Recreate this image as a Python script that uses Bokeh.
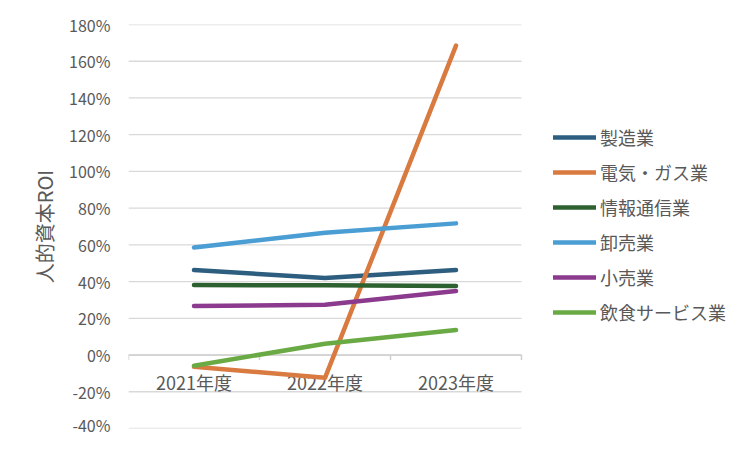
import numpy as np
from bokeh.plotting import figure
from bokeh.models import (Range1d, NumeralTickFormatter, FixedTicker, Legend, LegendItem)
from bokeh.core.properties import value
from bokeh.embed import file_html
from bokeh.resources import INLINE

categories = ["2021年度", "2022年度", "2023年度"]
series_names = ["製造業", "電気・ガス業", "情報通信業", "卸売業", "小売業", "飲食サービス業"]
manufacturing = [0.463, 0.420, 0.463]
electric_gas = [-0.064, -0.124, 1.685]
info_comm = [0.381, 0.380, 0.376]
wholesale = [0.586, 0.666, 0.717]
retail = [0.267, 0.274, 0.349]
food_service = [-0.058, 0.062, 0.136]
series_values = [manufacturing, electric_gas, info_comm, wholesale, retail, food_service]
colors = ["#2D5E7F", "#D97B41", "#2E6130", "#4A9ED4", "#8B3A8D", "#6AAA45"]
y_ticks = [-0.4, -0.2, 0.0, 0.2, 0.4, 0.6, 0.8, 1.0, 1.2, 1.4, 1.6, 1.8]

FONT = "Noto Sans CJK JP"
TXT = "#595959"

W, H = 736, 436
LEFT, TOP, BOTTOM, RIGHT = 128, 24, 8, 0
PLOT_W = 393  # pixel width of the category area
frame_w = W - LEFT - RIGHT
n = len(categories)
x_end = n * frame_w / PLOT_W

p = figure(width=W, height=H, output_backend="svg", toolbar_location=None,
           x_range=Range1d(0, x_end), y_range=Range1d(y_ticks[0], y_ticks[-1]),
           min_border_left=LEFT, min_border_right=RIGHT, min_border_top=TOP, min_border_bottom=BOTTOM)
p.outline_line_color = None
p.xaxis.visible = False
p.xgrid.visible = False
p.ygrid.visible = False
p.background_fill_color = "white"
p.border_fill_color = "white"

ya = p.yaxis[0]
ya.ticker = FixedTicker(ticks=y_ticks)
ya.formatter = NumeralTickFormatter(format="0%")
ya.axis_line_color = None
ya.major_tick_line_color = None
ya.minor_tick_line_color = None
ya.major_tick_out = 0
ya.major_label_standoff = 18
ya.major_label_text_font = FONT
ya.major_label_text_font_size = "16px"
ya.major_label_text_color = TXT
ya.axis_label = "人的資本ROI"
ya.axis_label_text_font = FONT
ya.axis_label_text_font_size = "20px"
ya.axis_label_text_font_style = "normal"
ya.axis_label_text_color = TXT
ya.axis_label_standoff = 7

xc = [i + 0.5 for i in range(n)]
bounds = list(range(n + 1))

# horizontal gridlines over the category area only
p.segment(x0=[0] * len(y_ticks), x1=[n] * len(y_ticks), y0=y_ticks, y1=y_ticks,
          line_color="#D9D9D9", line_width=1.3)

# category axis at 0
p.line(x=[bounds[0], bounds[-1]], y=[0, 0], line_color="#CFCFCF", line_width=1.5)
p.ray(x=bounds, y=[0] * len(bounds), length=5, angle=-np.pi / 2, length_units="screen",
      line_color="#CFCFCF", line_width=1.5)
p.text(x=xc, y=[0] * len(xc), text=categories, y_offset=27,
       text_align="center", text_baseline="middle",
       text_font=value(FONT), text_font_size="18px", text_color=TXT)

items = []
for name, vals, c in zip(series_names, series_values, colors):
    r = p.line(x=xc, y=vals, line_color=c, line_width=4.5, line_cap="round", line_join="round")
    items.append(LegendItem(label=name, renderers=[r]))

legend = Legend(items=items, location=(425, 103), orientation="vertical",
                glyph_width=43, glyph_height=20, label_height=20, spacing=9,
                label_standoff=4, padding=0, margin=0,
                border_line_color=None, background_fill_alpha=0,
                label_text_font=FONT, label_text_font_size="18px", label_text_color=TXT)
p.add_layout(legend, "center")

open("out.html", "w").write(file_html(p, INLINE))
